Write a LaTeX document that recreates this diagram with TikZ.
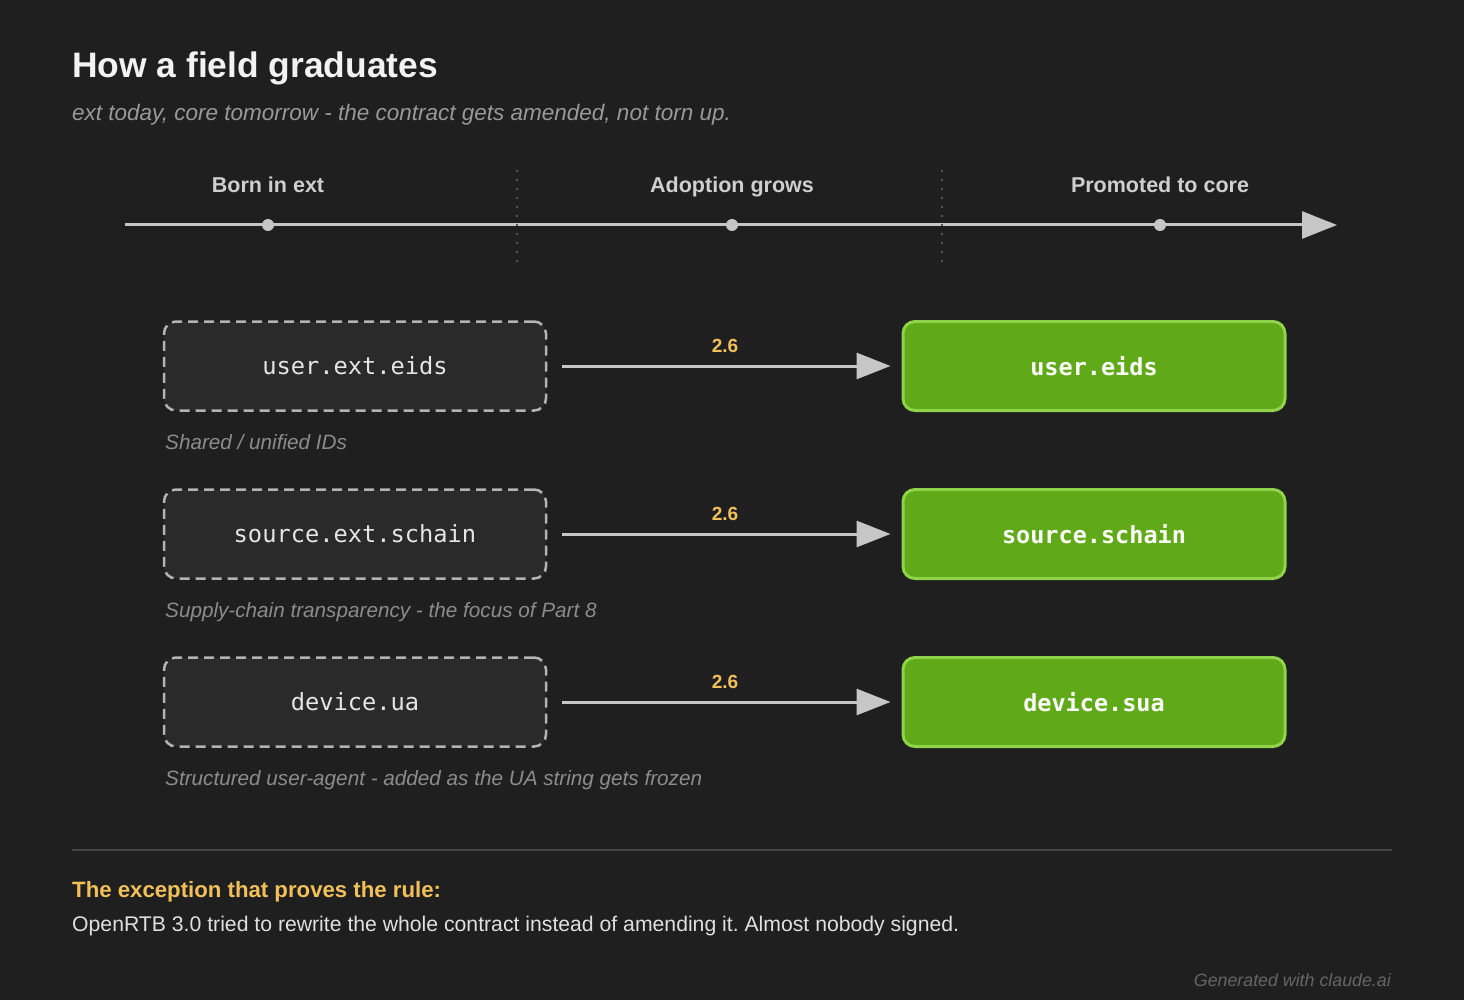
\documentclass[tikz,border=0pt]{standalone}
\usepackage{fontspec}
\setmainfont{Liberation Sans}
\setmonofont{DejaVu Sans Mono}
\usepackage{xcolor}
\usetikzlibrary{arrows.meta}
\frenchspacing
\definecolor{bgdark}{HTML}{1F1F1F}
\definecolor{boxdark}{HTML}{2A2A2A}
\definecolor{linegrey}{HTML}{C6C6C6}
\definecolor{dashgrey}{HTML}{B4B4B4}
\definecolor{coregreen}{HTML}{60A918}
\definecolor{coreedge}{HTML}{8FD34A}
\definecolor{versionyellow}{HTML}{F2C05A}
\tikzset{%
  tipA/.tip={Triangle[length=35pt,width=27pt]},
  tipB/.tip={Triangle[length=34pt,width=26pt]},
  extbox/.style={draw=dashgrey, fill=boxdark, line width=2.5pt, dash pattern=on 10pt off 6pt,
    rounded corners=12pt, minimum width=382pt, minimum height=89pt,
    text=white!90!black, font=\ttfamily\fontsize{23.7}{28}\selectfont},
  corebox/.style={draw=coreedge, fill=coregreen, line width=3pt,
    rounded corners=12pt, minimum width=382pt, minimum height=89pt,
    text=white, font=\ttfamily\bfseries\fontsize{23.5}{28}\selectfont},
  promote/.style={draw=linegrey, line width=3pt, -tipB, shorten <=15pt, shorten >=11pt},
  caption/.style={anchor=base west, inner sep=0pt, text=white!55!black, font=\itshape\fontsize{20.7}{24}\selectfont},
  stage/.style={anchor=base, inner sep=0pt, text=white!81!black, font=\bfseries\fontsize{21.5}{25}\selectfont},
  version/.style={anchor=base, inner sep=0pt, text=versionyellow, font=\bfseries\fontsize{19}{22}\selectfont},
  dot/.style={circle, fill=linegrey, inner sep=0pt, minimum size=12pt},
  divider/.style={white!33!black, line width=2pt, dash pattern=on 2pt off 7pt},
}

\begin{document}
\begin{tikzpicture}[x=1pt,y=-1pt]
    \fill[bgdark] (0,0) rectangle (1464,1000);
    \useasboundingbox (0,0) rectangle (1464,1000);
    % title
    \node[anchor=base west, inner sep=0pt, text=white!95!black, font=\bfseries\fontsize{35.4}{40}\selectfont] (title) at (72,78) {How a field graduates};
    \node[anchor=base west, inner sep=0pt, text=white!60!black, font=\itshape\fontsize{22.5}{26}\selectfont] (subtitle) at (72,121) {ext today, core tomorrow - the contract gets amended, not torn up.};
    % timeline
    \node[stage] (born) at (268,193) {Born in ext};
    \node[stage] (grows) at (732,193) {Adoption grows};
    \node[stage] (core) at (1160,193) {Promoted to core};
    \coordinate (axstart) at (125,225);
    \coordinate (axend) at (1337,225);
    \draw[linegrey, line width=3pt, -tipA] (axstart) -- (axend);
    \draw[divider] (517,170) -- (517,262);
    \draw[divider] (942,170) -- (942,262);
    \node[dot] (dborn) at (268,225) {};
    \node[dot] (dgrows) at (732,225) {};
    \node[dot] (dcore) at (1160,225) {};
    % fields
    \node[extbox] (ext1) at (355,366) {user.ext.eids};
    \node[corebox] (core1) at (1094,366) {user.eids};
    \draw[promote] (ext1.east) -- (core1.west);
    \node[version] (v1) at (725,352) {2.6};
    \node[caption] (cap1) at (165,449) {Shared / unified IDs};

    \node[extbox] (ext2) at (355,534) {source.ext.schain};
    \node[corebox] (core2) at (1094,534) {source.schain};
    \draw[promote] (ext2.east) -- (core2.west);
    \node[version] (v2) at (725,520) {2.6};
    \node[caption] (cap2) at (165,617) {Supply-chain transparency - the focus of Part 8};

    \node[extbox] (ext3) at (355,702) {device.ua};
    \node[corebox] (core3) at (1094,702) {device.sua};
    \draw[promote] (ext3.east) -- (core3.west);
    \node[version] (v3) at (725,688) {2.6};
    \node[caption] (cap3) at (165,785) {Structured user-agent - added as the UA string gets frozen};
    % footer
    \draw[white!27!black, line width=2.5pt] (72,850) -- (1392,850);
    \node[anchor=base west, inner sep=0pt, text=versionyellow, font=\bfseries\fontsize{22.2}{26}\selectfont] (rule) at (72,897) {The exception that proves the rule:};
    \node[anchor=base west, inner sep=0pt, text=white!88!black, font=\fontsize{21.2}{25}\selectfont] (openrtb) at (72,931) {OpenRTB 3.0 tried to rewrite the whole contract instead of amending it. Almost nobody signed.};
    \node[anchor=base east, inner sep=0pt, text=white!40!black, font=\itshape\fontsize{17.8}{21}\selectfont] (gen) at (1391,986) {Generated with claude.ai};
\end{tikzpicture}
\end{document}
